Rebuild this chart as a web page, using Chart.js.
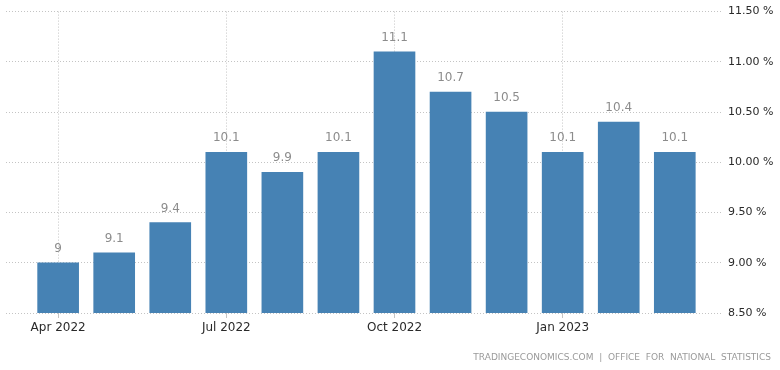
<!DOCTYPE html>
<html>
<head>
<meta charset="utf-8">
<script src="https://cdn.jsdelivr.net/npm/chart.js@4"></script>
<style>
  html, body { margin: 0; padding: 0; background: #fff; }
  #wrap { position: relative; width: 780px; height: 370px; }
</style>
</head>
<body>
<div id="wrap"><canvas id="myChart" width="780" height="370"></canvas></div>
<script>
var months = ['Apr 2022', 'May 2022', 'Jun 2022', 'Jul 2022', 'Aug 2022', 'Sep 2022',
              'Oct 2022', 'Nov 2022', 'Dec 2022', 'Jan 2023', 'Feb 2023', 'Mar 2023'];
var inflation = [9, 9.1, 9.4, 10.1, 9.9, 10.1, 11.1, 10.7, 10.5, 10.1, 10.4, 10.1];
var labelledMonths = [0, 3, 6, 9];
var yMin = 8.5, yMax = 11.5, yStep = 0.5;
var sourceText = 'TRADINGECONOMICS.COM  |  OFFICE  FOR  NATIONAL  STATISTICS';

var points = inflation.map(function (v, i) { return { x: i, y: v }; });

// value labels above bars + source line
var extras = {
    id: 'extras',
    afterDatasetsDraw: function (chart) {
        var c = chart.ctx;
        var meta = chart.getDatasetMeta(0);
        c.save();
        c.font = '12px "DejaVu Sans"';
        c.fillStyle = '#8c8c8c';
        c.textAlign = 'center';
        c.textBaseline = 'bottom';
        meta.data.forEach(function (bar, i) {
            c.fillText(String(inflation[i]), bar.x, bar.y - 8);
        });
        c.font = '9px "DejaVu Sans"';
        c.fillStyle = '#9a9a9a';
        c.textAlign = 'right';
        c.textBaseline = 'middle';
        c.fillText(sourceText, 771, 358);
        c.restore();
    }
};

var ctx = document.getElementById('myChart').getContext('2d');
var chart = new Chart(ctx, {
    type: 'bar',
    data: {
        datasets: [{
            data: points,
            backgroundColor: '#4682b4',
            borderWidth: 0,
            barThickness: 41
        }]
    },
    options: {
        responsive: false,
        animation: false,
        layout: { padding: { left: 6, top: 10, right: 0, bottom: 0 } },
        plugins: {
            legend: { display: false },
            tooltip: { enabled: false }
        },
        scales: {
            x: {
                type: 'linear',
                min: -0.93,
                max: 11.86,
                offset: false,
                afterBuildTicks: function (scale) {
                    scale.ticks = labelledMonths.map(function (v) { return { value: v }; });
                },
                afterFit: function (scale) { scale.height = 57; },
                ticks: {
                    autoSkip: false,
                    maxRotation: 0,
                    padding: 3,
                    color: '#2a2a2a',
                    font: { family: 'DejaVu Sans', size: 12 },
                    callback: function (v) { return months[v]; }
                },
                grid: {
                    offset: false,
                    color: '#c4c4c4',
                    tickLength: 5,
                    tickColor: '#c4c4c4'
                },
                border: { display: false, dash: [1, 2] }
            },
            y: {
                position: 'right',
                min: yMin,
                max: yMax,
                afterFit: function (scale) { scale.width = 57; },
                ticks: {
                    stepSize: yStep,
                    padding: 5,
                    color: '#2a2a2a',
                    font: { family: 'DejaVu Sans', size: 11 },
                    callback: function (v) { return v.toFixed(2) + ' %'; }
                },
                grid: { color: '#c4c4c4', drawTicks: false },
                border: { display: false, dash: [1, 2] }
            }
        }
    },
    plugins: [extras]
});
</script>
</body>
</html>
